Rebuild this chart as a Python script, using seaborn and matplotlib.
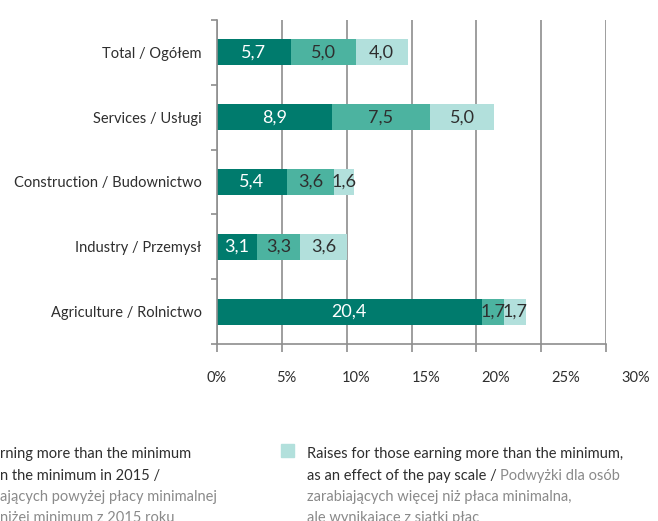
import numpy as np
import matplotlib
matplotlib.use("Agg")
import matplotlib.pyplot as plt
import matplotlib.transforms as mtransforms
from matplotlib.patches import Rectangle
import seaborn as sns

# Sectors and the three components of the wage raise (in %)
categories = [
    "Total / Ogółem",
    "Services / Usługi",
    "Construction / Budownictwo",
    "Industry / Przemysł",
    "Agriculture / Rolnictwo",
]
below_minimum = [5.7, 8.9, 5.4, 3.1, 20.4]
above_min_low = [5.0, 7.5, 3.6, 3.3, 1.7]
pay_scale = [4.0, 5.0, 1.6, 3.6, 1.7]

x_ticks = [0, 5, 10, 15, 20, 25, 30]
x_tick_labels = [f"{t}%" for t in x_ticks]

DARK = "#007b6d"
MID = "#4cb3a0"
LIGHT = "#b2e0dc"
GRID = "#8e8e8e"
TEXT = "#2e2e2e"
MUTED = "#8a8a8a"

sns.set_theme(style="white")
plt.rcParams["font.family"] = ["Lato", "DejaVu Sans"]

W, H = 658, 521
fig = plt.figure(figsize=(W / 100, H / 100), dpi=100)
ax = fig.add_axes([217 / W, 1 - 344 / H, (606 - 217) / W, (344 - 20) / H])

s1 = np.array(below_minimum)
s2 = np.array(above_min_low)
s3 = np.array(pay_scale)
levels = [(s1 + s2 + s3, LIGHT), (s1 + s2, MID), (s1, DARK)]

# stacked bars drawn as overlapping cumulative totals
for vals, col in levels:
    sns.barplot(x=vals, y=categories, orient="h", color=col, width=0.4,
                saturation=1, errorbar=None, linewidth=0, ax=ax)

# value labels centred in each segment
for i in range(len(categories)):
    starts = [0, s1[i], s1[i] + s2[i]]
    vals = [s1[i], s2[i], s3[i]]
    colors = ["white", TEXT, TEXT]
    for st, v, c in zip(starts, vals, colors):
        ax.text(st + v / 2, i, f"{v:.1f}".replace(".", ","), ha="center",
                va="center", color=c, fontsize=13)

ax.set_xlim(0, 30)
ax.set_ylim(4.5, -0.5)
ax.set_xlabel("")
ax.set_ylabel("")

ax.set_xticks(x_ticks)
ax.grid(axis="x", color=GRID, linewidth=1.2)
ax.grid(axis="y", visible=False)
ax.set_axisbelow(True)
ax.tick_params(axis="x", bottom=True, length=6, width=1.2, color=GRID,
               labelbottom=False)

ax.set_yticks(range(len(categories)))
ax.set_yticklabels(categories)
ax.set_yticks(np.arange(-0.5, 5, 1), minor=True)
ax.tick_params(axis="y", which="major", length=0, pad=11, labelsize=10.5,
               labelcolor=TEXT)
ax.tick_params(axis="y", which="minor", left=True, length=4, width=1.2,
               color=GRID)

for side in ["top", "right"]:
    ax.spines[side].set_visible(False)
for side in ["left", "bottom"]:
    ax.spines[side].set_color(GRID)
    ax.spines[side].set_linewidth(1.2)

# percentage labels along the bottom, on a slightly wider spacing
k = 0.93
lab_tr = mtransforms.blended_transform_factory(ax.transData, fig.transFigure)
for t, lab in zip(x_ticks, x_tick_labels):
    ax.text(t / k, 1 - 378 / H, lab, transform=lab_tr, ha="center",
            va="center", fontsize=10.5, color=TEXT, clip_on=False)


def ftext(x, y, s, color, **kw):
    return fig.text(x / W, 1 - y / H, s, color=color, fontsize=10.5,
                    va="baseline", ha="left", **kw)


# legend, left entry
ftext(0, 458, "rning more than the minimum", TEXT)
ftext(0, 480, "n the minimum in 2015 /", TEXT)
ftext(0, 501, "ających powyżej płacy minimalnej", MUTED)
ftext(0, 522, "niżej minimum z 2015 roku", MUTED)

# legend, right entry
fig.patches.append(Rectangle((281 / W, 1 - 457 / H), 13 / W, 13 / H,
                             transform=fig.transFigure, color=LIGHT))
ftext(307, 458, "Raises for those earning more than the minimum,", TEXT)
dark_part = ftext(307, 480, "as an effect of the pay scale / ", TEXT)
grey_part = ftext(307, 480, "Podwyżki dla osób", MUTED)
ftext(307, 501, "zarabiających więcej niż płaca minimalna,", MUTED)
ftext(307, 522, "ale wynikające z siatki płac", MUTED)

# place the grey half of the second line right after the dark half
fig.canvas.draw()
bb = dark_part.get_window_extent(fig.canvas.get_renderer())
grey_part.set_position((bb.x1 / W, 1 - 480 / H))

fig.savefig("out.png", dpi=100)
